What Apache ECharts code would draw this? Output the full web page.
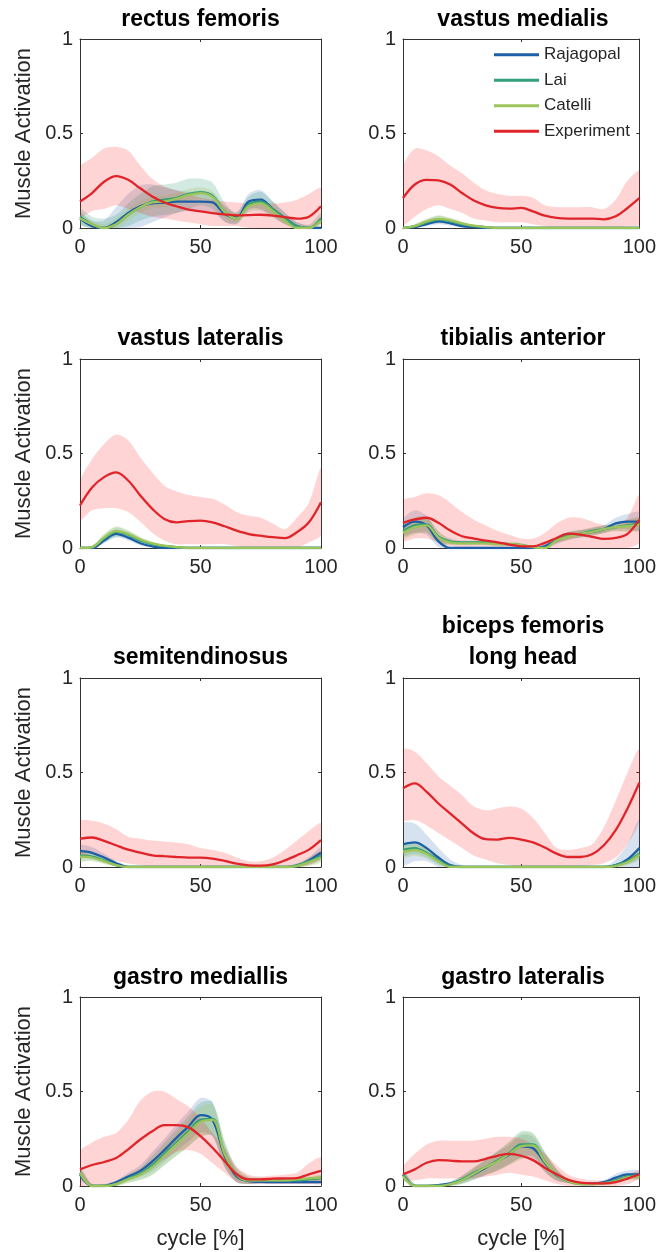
<!DOCTYPE html>
<html>
<head>
<meta charset="utf-8">
<script src="https://cdn.jsdelivr.net/npm/echarts@6/dist/echarts.min.js"></script>
<style>
html,body{margin:0;padding:0;background:#fff;}
#c{width:659px;height:1252px;}
</style>
</head>
<body>
<div id="c"></div>
<script>
// ---------------- DATA ----------------
const cycle = [0,5,10,15,20,25,30,35,40,45,50,55,60,65,70,75,80,85,90,95,100];
const seriesNames = ['Rajagopal','Lai','Catelli','Experiment'];

// rectus femoris
const rfExpMean  = [0.14,0.185,0.245,0.275,0.255,0.21,0.167,0.135,0.115,0.097,0.088,0.079,0.072,0.067,0.068,0.07,0.066,0.057,0.05,0.06,0.115];
const rfExpUpper = [0.32,0.37,0.42,0.43,0.41,0.33,0.26,0.22,0.2,0.18,0.16,0.15,0.14,0.135,0.13,0.13,0.13,0.135,0.15,0.18,0.21];
const rfExpLower = [0.06,0.09,0.1,0.12,0.1,0.08,0.06,0.05,0.04,0.03,0.02,0.01,0.01,0.01,0,0,0,0,0,0,0.03];
const rfRajMean = [0.05,0.01,0,0.03,0.08,0.115,0.13,0.135,0.14,0.14,0.14,0.135,0.075,0.055,0.14,0.15,0.1,0.053,0.01,0,0];
const rfRajSd   = [0.03,0.03,0.04,0.08,0.1,0.11,0.1,0.08,0.06,0.05,0.05,0.05,0.04,0.03,0.04,0.05,0.04,0.03,0.02,0.01,0.01];
const rfLaiMean = [0.06,0.02,0,0.02,0.07,0.11,0.14,0.15,0.16,0.18,0.19,0.17,0.085,0.05,0.125,0.14,0.1,0.05,0.01,0,0.05];
const rfLaiSd   = [0.04,0.04,0.05,0.05,0.06,0.07,0.08,0.08,0.08,0.08,0.07,0.07,0.05,0.03,0.04,0.05,0.04,0.03,0.02,0.02,0.03];
const rfCatMean = [0.05,0.02,0,0.02,0.07,0.11,0.135,0.14,0.155,0.175,0.185,0.165,0.085,0.05,0.115,0.13,0.09,0.04,0,0,0.04];
const rfCatSd   = [0.02,0.02,0.02,0.03,0.03,0.03,0.03,0.03,0.03,0.03,0.03,0.03,0.03,0.02,0.02,0.03,0.03,0.02,0.01,0.01,0.02];

// vastus medialis
const vmExpMean  = [0.158,0.23,0.255,0.252,0.23,0.185,0.145,0.12,0.106,0.102,0.106,0.088,0.065,0.053,0.05,0.05,0.05,0.046,0.062,0.106,0.158];
const vmExpUpper = [0.32,0.42,0.41,0.38,0.33,0.29,0.24,0.2,0.18,0.17,0.17,0.16,0.12,0.11,0.11,0.11,0.11,0.1,0.15,0.25,0.3];
const vmExpLower = [0.02,0.06,0.1,0.12,0.1,0.08,0.05,0.04,0.03,0.03,0.03,0.02,0.01,0,0,0,0,0,0,0.01,0.02];
const vmRajMean = [0,0.005,0.02,0.035,0.025,0.01,0.005,0,0,0,0,0,0,0,0,0,0,0,0,0,0];
const vmRajSd   = [0,0.005,0.01,0.015,0.012,0.008,0.005,0,0,0,0,0,0,0,0,0,0,0,0,0,0];
const vmLaiMean = [0,0.01,0.03,0.045,0.035,0.02,0.01,0.005,0,0,0,0,0,0,0,0,0,0,0,0,0];
const vmLaiSd   = [0,0.01,0.015,0.02,0.015,0.01,0.005,0.003,0,0,0,0,0,0,0,0,0,0,0,0,0];
const vmCatMean = [0,0.01,0.035,0.048,0.04,0.025,0.012,0.005,0,0,0,0,0,0,0,0,0,0,0,0,0];
const vmCatSd   = [0,0.01,0.015,0.02,0.015,0.01,0.005,0.003,0,0,0,0,0,0,0,0,0,0,0,0,0];

// vastus lateralis
const vlExpMean  = [0.225,0.32,0.375,0.4,0.357,0.278,0.207,0.154,0.136,0.142,0.145,0.136,0.115,0.092,0.074,0.065,0.057,0.052,0.083,0.136,0.242];
const vlExpUpper = [0.35,0.47,0.55,0.6,0.57,0.48,0.4,0.33,0.3,0.28,0.27,0.26,0.23,0.19,0.17,0.16,0.13,0.1,0.16,0.24,0.42];
const vlExpLower = [0.15,0.2,0.21,0.21,0.19,0.14,0.08,0.04,0.02,0.02,0.02,0.02,0.02,0.01,0,0,0,0,0,0.03,0.07];
const vlRajMean = [0,0,0.04,0.075,0.055,0.025,0.008,0,0,0,0,0,0,0,0,0,0,0,0,0,0];
const vlRajSd   = [0,0,0.015,0.02,0.015,0.01,0.005,0,0,0,0,0,0,0,0,0,0,0,0,0,0];
const vlLaiMean = [0,0.005,0.05,0.085,0.07,0.04,0.02,0.01,0.005,0,0,0,0,0,0,0,0,0,0,0,0];
const vlLaiSd   = [0,0.005,0.02,0.025,0.02,0.015,0.01,0.005,0,0,0,0,0,0,0,0,0,0,0,0,0];
const vlCatMean = [0,0.005,0.055,0.09,0.075,0.045,0.025,0.012,0.005,0,0,0,0,0,0,0,0,0,0,0,0];
const vlCatSd   = [0,0.005,0.02,0.025,0.02,0.015,0.01,0.005,0,0,0,0,0,0,0,0,0,0,0,0,0];

// tibialis anterior
const taExpMean  = [0.133,0.151,0.16,0.133,0.092,0.062,0.05,0.039,0.03,0.018,0.009,0.009,0.027,0.053,0.076,0.071,0.059,0.048,0.053,0.075,0.15];
const taExpUpper = [0.25,0.27,0.29,0.28,0.24,0.19,0.15,0.12,0.09,0.07,0.05,0.05,0.08,0.13,0.16,0.16,0.14,0.12,0.12,0.16,0.28];
const taExpLower = [0.04,0.05,0.05,0.03,0.01,0,0,0,0,0,0,0,0,0,0,0,0,0,0,0,0.03];
const taRajMean = [0.11,0.14,0.12,0.035,0,0,0,0,0,0,0,0,0.01,0.04,0.065,0.075,0.085,0.1,0.13,0.14,0.14];
const taRajSd   = [0.04,0.06,0.05,0.03,0.005,0,0,0,0,0,0,0,0.01,0.02,0.02,0.02,0.02,0.02,0.03,0.04,0.05];
const taLaiMean = [0.09,0.12,0.125,0.06,0.035,0.03,0.03,0.03,0.025,0.02,0.015,0.005,0,0.045,0.065,0.075,0.09,0.1,0.11,0.12,0.13];
const taLaiSd   = [0.03,0.04,0.04,0.03,0.015,0.01,0.01,0.01,0.01,0.01,0.01,0.005,0.005,0.015,0.02,0.02,0.02,0.02,0.02,0.03,0.03];
const taCatMean = [0.08,0.11,0.12,0.055,0.03,0.025,0.025,0.025,0.02,0.02,0.015,0.005,0,0.04,0.06,0.075,0.085,0.1,0.11,0.115,0.125];
const taCatSd   = [0.03,0.04,0.04,0.03,0.015,0.01,0.01,0.01,0.01,0.01,0.01,0.005,0.005,0.015,0.02,0.02,0.02,0.02,0.02,0.03,0.03];

// semitendinosus
const stExpMean  = [0.15,0.156,0.138,0.115,0.092,0.076,0.062,0.057,0.053,0.05,0.05,0.044,0.032,0.018,0.009,0.007,0.014,0.035,0.062,0.092,0.142];
const stExpUpper = [0.24,0.245,0.23,0.2,0.16,0.15,0.14,0.135,0.13,0.12,0.1,0.09,0.075,0.05,0.03,0.03,0.05,0.09,0.14,0.19,0.23];
const stExpLower = [0.06,0.07,0.05,0.03,0.02,0.01,0,0,0,0,0,0,0,0,0,0,0,0,0,0.01,0.05];
const stRajMean = [0.085,0.075,0.05,0.02,0,0,0,0,0,0,0,0,0,0,0,0,0,0,0.005,0.035,0.075];
const stRajSd   = [0.03,0.03,0.02,0.01,0.005,0,0,0,0,0,0,0,0,0,0,0,0,0,0.005,0.015,0.03];
const stLaiMean = [0.06,0.055,0.035,0.01,0,0,0,0,0,0,0,0,0,0,0,0,0,0,0.01,0.03,0.06];
const stLaiSd   = [0.025,0.02,0.015,0.008,0,0,0,0,0,0,0,0,0,0,0,0,0,0.005,0.01,0.02,0.025];
const stCatMean = [0.055,0.05,0.03,0.01,0,0,0,0,0,0,0,0,0,0,0,0,0,0,0.005,0.025,0.05];
const stCatSd   = [0.025,0.02,0.015,0.008,0,0,0,0,0,0,0,0,0,0,0,0,0,0.005,0.01,0.02,0.025];

// biceps femoris long head
const bfExpMean  = [0.416,0.442,0.398,0.336,0.283,0.23,0.177,0.147,0.145,0.154,0.145,0.13,0.103,0.071,0.053,0.053,0.067,0.115,0.195,0.31,0.446];
const bfExpUpper = [0.62,0.61,0.55,0.48,0.43,0.38,0.32,0.3,0.31,0.32,0.31,0.26,0.18,0.1,0.09,0.1,0.12,0.21,0.35,0.5,0.62];
const bfExpLower = [0.25,0.25,0.22,0.18,0.14,0.1,0.06,0.04,0.02,0.01,0,0,0,0,0,0,0.01,0.02,0.05,0.12,0.25];
const bfRajMean = [0.12,0.13,0.1,0.05,0.01,0,0,0,0,0,0,0,0,0,0,0,0,0,0.01,0.04,0.1];
const bfRajSd   = [0.11,0.1,0.07,0.05,0.03,0.01,0,0,0,0,0,0,0,0,0,0,0,0,0.03,0.08,0.15];
const bfLaiMean = [0.09,0.1,0.075,0.035,0.005,0,0,0,0,0,0,0,0,0,0,0,0,0,0.01,0.03,0.07];
const bfLaiSd   = [0.03,0.03,0.025,0.02,0.01,0,0,0,0,0,0,0,0,0,0,0,0,0,0.005,0.015,0.025];
const bfCatMean = [0.08,0.09,0.07,0.03,0,0,0,0,0,0,0,0,0,0,0,0,0,0,0.005,0.025,0.065];
const bfCatSd   = [0.03,0.03,0.025,0.02,0.01,0,0,0,0,0,0,0,0,0,0,0,0,0,0.005,0.015,0.025];

// gastro mediallis
const gmExpMean  = [0.088,0.111,0.127,0.148,0.194,0.246,0.29,0.322,0.322,0.31,0.264,0.202,0.132,0.062,0.035,0.035,0.039,0.04,0.042,0.062,0.08];
const gmExpUpper = [0.18,0.23,0.26,0.28,0.35,0.45,0.5,0.5,0.46,0.42,0.36,0.28,0.2,0.1,0.06,0.05,0.055,0.06,0.07,0.12,0.15];
const gmExpLower = [0,0,0,0.02,0.05,0.07,0.1,0.14,0.18,0.19,0.17,0.12,0.07,0.02,0.01,0.01,0.01,0.01,0.01,0.01,0.02];
const gmRajMean = [0.06,0,0,0.02,0.05,0.08,0.13,0.19,0.255,0.315,0.375,0.35,0.16,0.05,0.026,0.022,0.02,0.02,0.02,0.02,0.02];
const gmRajSd   = [0.03,0.01,0.01,0.01,0.02,0.03,0.05,0.06,0.07,0.08,0.09,0.09,0.06,0.03,0.015,0.01,0.01,0.01,0.01,0.01,0.01];
const gmLaiMean = [0.07,0,0,0.01,0.04,0.065,0.11,0.17,0.23,0.29,0.35,0.355,0.17,0.06,0.03,0.03,0.03,0.03,0.03,0.035,0.04];
const gmLaiSd   = [0.03,0.01,0.01,0.01,0.02,0.03,0.05,0.06,0.07,0.08,0.09,0.09,0.07,0.04,0.02,0.015,0.01,0.01,0.01,0.01,0.015];
const gmCatMean = [0.07,0,0,0.01,0.035,0.06,0.1,0.16,0.22,0.28,0.34,0.35,0.17,0.06,0.03,0.03,0.03,0.03,0.035,0.04,0.045];
const gmCatSd   = [0.02,0.01,0.01,0.01,0.02,0.03,0.04,0.05,0.06,0.07,0.08,0.08,0.06,0.03,0.015,0.01,0.01,0.01,0.01,0.01,0.015];

// gastro lateralis
const glExpMean  = [0.062,0.088,0.123,0.137,0.134,0.13,0.13,0.144,0.16,0.17,0.16,0.137,0.097,0.062,0.032,0.018,0.014,0.014,0.021,0.039,0.062];
const glExpUpper = [0.1,0.17,0.22,0.24,0.24,0.24,0.24,0.25,0.26,0.26,0.25,0.22,0.17,0.11,0.06,0.04,0.03,0.03,0.04,0.06,0.08];
const glExpLower = [0.03,0.03,0.04,0.04,0.04,0.04,0.04,0.05,0.06,0.07,0.06,0.05,0.03,0.01,0,0,0,0,0,0.01,0.04];
const glRajMean = [0.06,0,0,0.005,0.014,0.032,0.062,0.097,0.132,0.167,0.21,0.2,0.123,0.056,0.026,0.015,0.012,0.02,0.044,0.062,0.062];
const glRajSd   = [0.02,0.01,0,0,0.01,0.02,0.03,0.04,0.05,0.05,0.06,0.06,0.05,0.03,0.01,0.005,0.005,0.01,0.02,0.02,0.02];
const glLaiMean = [0.06,0,0,0,0.01,0.035,0.07,0.1,0.135,0.175,0.22,0.22,0.13,0.06,0.025,0.01,0.01,0.015,0.03,0.05,0.055];
const glLaiSd   = [0.02,0.01,0,0.005,0.01,0.02,0.03,0.04,0.05,0.06,0.07,0.06,0.05,0.03,0.01,0.005,0.005,0.01,0.015,0.015,0.015];
const glCatMean = [0.05,0,0,0,0.01,0.03,0.065,0.1,0.13,0.17,0.21,0.215,0.13,0.06,0.025,0.01,0.01,0.015,0.025,0.045,0.05];
const glCatSd   = [0.02,0.01,0,0.005,0.01,0.02,0.03,0.04,0.05,0.06,0.07,0.06,0.05,0.03,0.01,0.005,0.005,0.01,0.015,0.015,0.015];

// ---------------- TABLE ----------------
const panels = [
  {title:'rectus femoris', exp:[rfExpMean,rfExpLower,rfExpUpper], raj:[rfRajMean,rfRajSd], lai:[rfLaiMean,rfLaiSd], cat:[rfCatMean,rfCatSd]},
  {title:'vastus medialis', exp:[vmExpMean,vmExpLower,vmExpUpper], raj:[vmRajMean,vmRajSd], lai:[vmLaiMean,vmLaiSd], cat:[vmCatMean,vmCatSd]},
  {title:'vastus lateralis', exp:[vlExpMean,vlExpLower,vlExpUpper], raj:[vlRajMean,vlRajSd], lai:[vlLaiMean,vlLaiSd], cat:[vlCatMean,vlCatSd]},
  {title:'tibialis anterior', exp:[taExpMean,taExpLower,taExpUpper], raj:[taRajMean,taRajSd], lai:[taLaiMean,taLaiSd], cat:[taCatMean,taCatSd]},
  {title:'semitendinosus', exp:[stExpMean,stExpLower,stExpUpper], raj:[stRajMean,stRajSd], lai:[stLaiMean,stLaiSd], cat:[stCatMean,stCatSd]},
  {title:'biceps femoris\nlong head', exp:[bfExpMean,bfExpLower,bfExpUpper], raj:[bfRajMean,bfRajSd], lai:[bfLaiMean,bfLaiSd], cat:[bfCatMean,bfCatSd]},
  {title:'gastro mediallis', exp:[gmExpMean,gmExpLower,gmExpUpper], raj:[gmRajMean,gmRajSd], lai:[gmLaiMean,gmLaiSd], cat:[gmCatMean,gmCatSd]},
  {title:'gastro lateralis', exp:[glExpMean,glExpLower,glExpUpper], raj:[glRajMean,glRajSd], lai:[glLaiMean,glLaiSd], cat:[glCatMean,glCatSd]}
];

// ---------------- STYLE / LAYOUT ----------------
const FONT = "'Liberation Sans', Arial, sans-serif";
const AX = '#262626';
const BOX = '#333333';
const LINE = {raj:'#1d5fa6', lai:'#33a079', cat:'#9cc45a', exp:'#e0242a'};
const BAND = {raj:'rgba(29,95,166,0.18)', lai:'rgba(51,160,121,0.22)', cat:'rgba(156,196,90,0.25)', exp:'rgba(255,0,0,0.17)'};
const NAME = {raj:'Rajagopal', lai:'Lai', cat:'Catelli', exp:'Experiment'};
const colLeft = [80, 403], colWidth = [241, 240];
const rowTop = [39, 359, 678, 997], plotH = 189;
const titleCY = [20, 339, 658, 978];
const SMOOTH = 0.35;

const grids = [], xAxes = [], yAxes = [], titles = [], series = [];
const N = panels.length;

function bandSeries(gi, lower, upper, color) {
  return {
    type: 'custom', xAxisIndex: gi, yAxisIndex: gi, silent: true, clip: true, z: 1,
    data: cycle.map((x, k) => [x, lower[k], upper[k]]),
    encode: {x: 0, y: [1, 2]},
    renderItem: function (params, api) {
      if (params.dataIndex !== 0) return null;
      const top = cycle.map((x, k) => api.coord([x, upper[k]]));
      const bot = cycle.map((x, k) => api.coord([x, lower[k]])).reverse();
      return {
        type: 'polygon',
        shape: {points: top.concat(bot), smooth: 0.3},
        style: {fill: color, stroke: null}
      };
    }
  };
}

const axisLineStyle = {show: true, onZero: false, lineStyle: {color: BOX, width: 1}};
const tickStyle = {show: true, inside: true, length: 3, lineStyle: {color: BOX}};

panels.forEach((p, i) => {
  const col = i % 2, row = Math.floor(i / 2);
  grids.push({left: colLeft[col], top: rowTop[row], width: colWidth[col], height: plotH});
  const twoLine = p.title.indexOf('\n') >= 0;
  const lh = twoLine ? 31 : 28;
  titles.push({
    text: p.title, left: colLeft[col] + colWidth[col] / 2, textAlign: 'center',
    top: titleCY[row] - (twoLine ? lh * 1.5 : lh / 2), padding: 0,
    textStyle: {fontFamily: FONT, fontSize: 23, fontWeight: 'bold', color: '#000', lineHeight: lh}
  });
  const isBottom = row === 3, isLeft = col === 0;
  xAxes[i] = {
    gridIndex: i, type: 'value', min: 0, max: 100, interval: 50, position: 'bottom',
    axisLine: axisLineStyle, axisTick: tickStyle,
    axisLabel: {show: true, color: AX, fontFamily: FONT, fontSize: 20, margin: 9},
    splitLine: {show: false},
    name: isBottom ? 'cycle [%]' : '', nameLocation: 'middle', nameGap: 42,
    nameTextStyle: {fontFamily: FONT, fontSize: 22, color: AX}
  };
  xAxes[N + i] = {
    gridIndex: i, type: 'value', min: 0, max: 100, interval: 50, position: 'top',
    axisLine: axisLineStyle, axisTick: tickStyle,
    axisLabel: {show: false}, splitLine: {show: false}
  };
  yAxes[i] = {
    gridIndex: i, type: 'value', min: 0, max: 1, interval: 0.5, position: 'left',
    axisLine: axisLineStyle, axisTick: tickStyle,
    axisLabel: {show: true, color: AX, fontFamily: FONT, fontSize: 20, margin: 7},
    splitLine: {show: false},
    name: isLeft ? 'Muscle Activation' : '', nameLocation: 'middle', nameGap: 45,
    nameTextStyle: {fontFamily: FONT, fontSize: 22, color: AX}
  };
  yAxes[N + i] = {
    gridIndex: i, type: 'value', min: 0, max: 1, interval: 0.5, position: 'right',
    axisLine: axisLineStyle, axisTick: tickStyle,
    axisLabel: {show: false}, splitLine: {show: false}
  };

  ['raj', 'lai', 'cat'].forEach(key => {
    const [mean, sd] = p[key];
    series.push(bandSeries(i, mean.map((m, k) => Math.max(0, m - sd[k])), mean.map((m, k) => m + sd[k]), BAND[key]));
  });
  series.push(bandSeries(i, p.exp[1], p.exp[2], BAND.exp));
  ['raj', 'lai', 'cat', 'exp'].forEach(key => {
    const mean = key === 'exp' ? p.exp[0] : p[key][0];
    series.push({type: 'line', name: NAME[key], xAxisIndex: i, yAxisIndex: i,
      data: mean.map((v, k) => [cycle[k], v]),
      symbol: 'none', smooth: SMOOTH, z: 3,
      itemStyle: {color: LINE[key]}, lineStyle: {color: LINE[key], width: 2.3},
      emphasis: {disabled: true}});
  });
});

const chart = echarts.init(document.getElementById('c'), null, {renderer: 'canvas'});
chart.setOption({
  animation: false,
  backgroundColor: '#fff',
  title: titles,
  grid: grids,
  xAxis: xAxes,
  yAxis: yAxes,
  legend: {
    data: seriesNames, orient: 'vertical', left: 494, top: 46, icon: 'rect',
    itemWidth: 45, itemHeight: 3, itemGap: 8, selectedMode: false,
    textStyle: {fontFamily: FONT, fontSize: 17, color: AX, lineHeight: 17.5}, padding: 0
  },
  series: series
});
</script>
</body>
</html>
